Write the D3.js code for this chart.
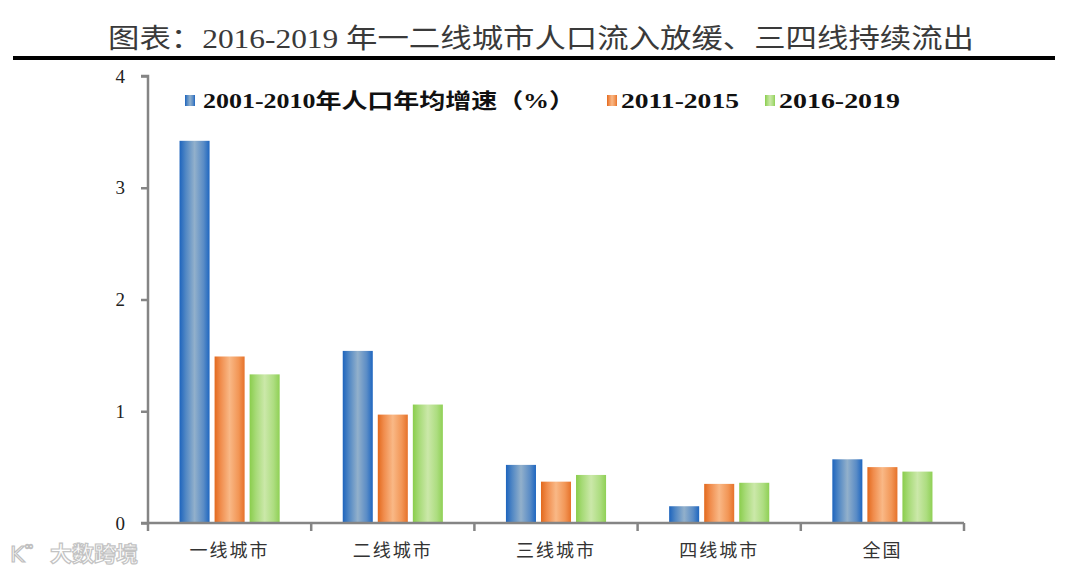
<!DOCTYPE html>
<html><head><meta charset="utf-8">
<script src="https://cdn.jsdelivr.net/npm/d3@7"></script>
<style>html,body{margin:0;padding:0;background:#fff;}svg{display:block;}
.serif{font-family:"Liberation Serif","Times New Roman","DejaVu Serif","Noto Sans CJK SC",serif;}
</style>
</head><body>
<script>
const categories = ["一线城市","二线城市","三线城市","四线城市","全国"];
const seriesNames = ["2001-2010年人口年均增速（%）","2011-2015","2016-2019"];
const s2001_2010 = [3.42, 1.54, 0.52, 0.15, 0.57];
const s2011_2015 = [1.49, 0.97, 0.37, 0.35, 0.50];
const s2016_2019 = [1.33, 1.06, 0.43, 0.36, 0.46];
const yTicks = [0,1,2,3,4];
const titleText = "图表：2016-2019 年一二线城市人口流入放缓、三四线持续流出";

const W=1080,H=574;
const svg=d3.select("body").append("svg").attr("width",W).attr("height",H);
const defs=svg.append("defs");
const grads=[
  ["gBlue",["#1d64bd","#4f86c4","#92b0cb","#5a8cc6","#1e66c0"]],
  ["gOrange",["#e2691d","#f08c4c","#f9b886","#f29656","#e6722a"]],
  ["gGreen",["#8acd4c","#a6da76","#cbe8a9","#addd80","#8fd055"]]
];
grads.forEach(([id,c])=>{
  const g=defs.append("linearGradient").attr("id",id).attr("x1","0").attr("x2","1").attr("y1","0").attr("y2","0");
  [0,0.2,0.5,0.8,1].forEach((o,i)=>g.append("stop").attr("offset",o).attr("stop-color",c[i]));
});
const fills=["url(#gBlue)","url(#gOrange)","url(#gGreen)"];

// Title
svg.append("text").attr("class","serif").attr("x",541).attr("y",48).attr("text-anchor","middle")
  .attr("font-size",27).attr("fill","#3a3a3a")
  .attr("textLength",866).attr("lengthAdjust","spacingAndGlyphs")
  .text(titleText);
svg.append("rect").attr("x",13).attr("y",56).attr("width",1042).attr("height",4).attr("fill","#000");

const x0=d3.scaleBand().domain(categories).range([148,964]).paddingInner(0).paddingOuter(0);
const x1=d3.scaleBand().domain([0,1,2]).range([0,x0.bandwidth()]).paddingInner(0.143).paddingOuter(0.9);
const y=d3.scaleLinear().domain([0,4]).range([523,76]);

const data=[s2001_2010,s2011_2015,s2016_2019];

categories.forEach((c,ci)=>{
  data.forEach((s,si)=>{
    svg.append("rect").attr("x",x0(c)+x1(si)).attr("y",y(s[ci]))
      .attr("width",x1.bandwidth()).attr("height",y(0)-y(s[ci]))
      .attr("fill",fills[si]);
  });
});

// y axis
const yAxis=d3.axisLeft(y).tickValues(yTicks).tickFormat(d3.format("d")).tickSize(7).tickPadding(16);
const ga=svg.append("g").attr("transform","translate(148,0)").call(yAxis);
ga.attr("font-family",null);
ga.select(".domain").attr("stroke","#858585").attr("stroke-width",2.5).attr("d","M-7,76H0V523H-7");
ga.selectAll(".tick line").attr("stroke","#858585").attr("stroke-width",2.5);
ga.selectAll(".tick text").attr("class","serif").attr("font-size",19).attr("fill","#222");

// x axis
const xb=d3.axisBottom(x0).tickSize(0).tickPadding(18);
const gx=svg.append("g").attr("transform","translate(0,523)").call(xb);
gx.attr("font-family",null);
gx.select(".domain").attr("stroke","#858585").attr("stroke-width",2.5).attr("d","M148,0H964");
gx.selectAll(".tick text").attr("class","serif").attr("font-size",18).attr("fill","#333")
  .attr("letter-spacing",2).attr("dy","0.9em");
const bounds=[148].concat(categories.map(c=>x0(c)+x0.bandwidth()));
svg.selectAll("line.sep").data(bounds).enter().append("line")
  .attr("x1",d=>d).attr("x2",d=>d).attr("y1",523).attr("y2",531)
  .attr("stroke","#858585").attr("stroke-width",2.5);

// legend
const legX=[185,607,765], legTX=[203,621,779], legTL=[372,118,121];
seriesNames.forEach((n,i)=>{
  svg.append("rect").attr("x",legX[i]).attr("y",95).attr("width",10).attr("height",11).attr("fill",fills[i]);
  svg.append("text").attr("class","serif").attr("x",legTX[i]).attr("y",108)
    .attr("font-weight","bold").attr("font-size",21).attr("fill","#111")
    .attr("textLength",legTL[i]).attr("lengthAdjust","spacingAndGlyphs").text(n);
});

// watermark
const wm=svg.append("g").attr("opacity",0.9);
wm.append("text").attr("x",10).attr("y",562).attr("font-family","DejaVu Sans, sans-serif").attr("font-size",22)
  .attr("fill","#fff").attr("stroke","#b9b9b9").attr("stroke-width",1.2).text("K");
wm.append("text").attr("x",24).attr("y",550).attr("font-family","DejaVu Sans, sans-serif").attr("font-size",12)
  .attr("fill","#fff").attr("stroke","#b9b9b9").attr("stroke-width",1).text("∞");
wm.append("text").attr("x",50).attr("y",561).attr("font-family","Noto Sans CJK SC, sans-serif").attr("font-size",21)
  .attr("font-weight","bold").attr("fill","#fff").attr("stroke","#bdbdbd").attr("stroke-width",1.2)
  .attr("textLength",88).attr("lengthAdjust","spacingAndGlyphs").text("大数跨境");
</script>
</body></html>
